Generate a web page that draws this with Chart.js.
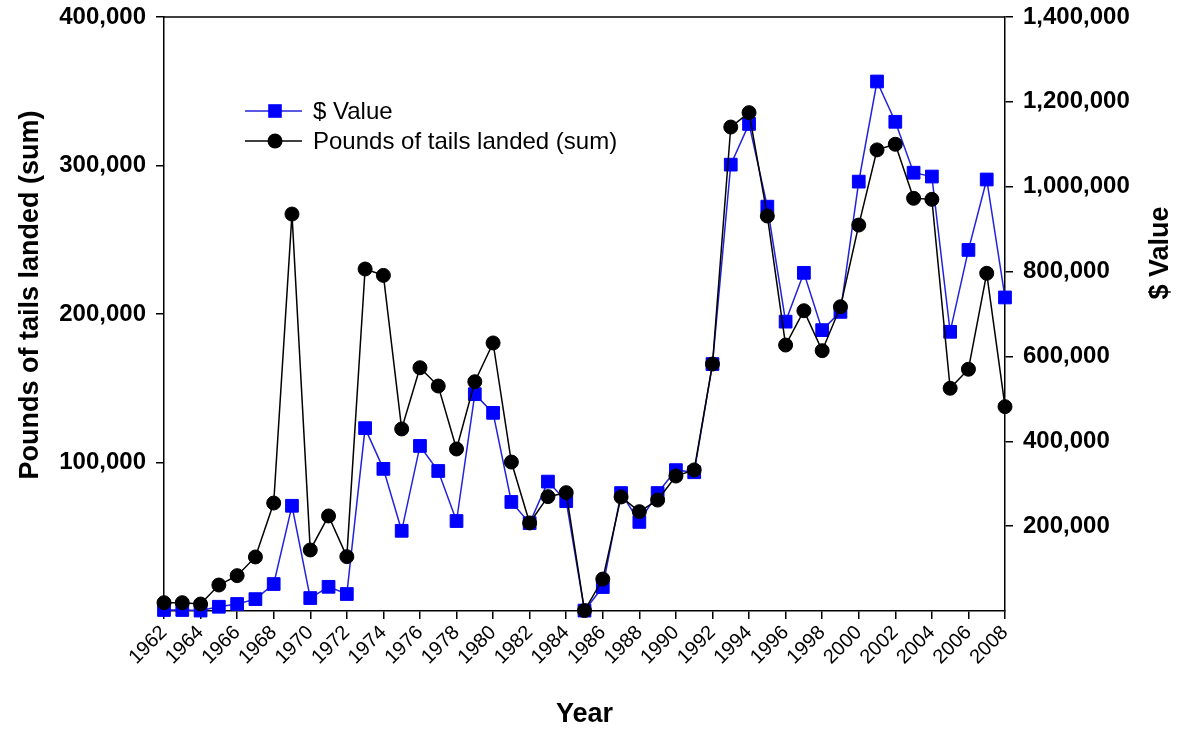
<!DOCTYPE html>
<html>
<head>
<meta charset="utf-8">
<script src="https://cdn.jsdelivr.net/npm/chart.js@4.4.1/dist/chart.umd.min.js"></script>
<style>
  html, body { margin: 0; padding: 0; background: #ffffff; }
  #wrap { width: 1182px; height: 731px; position: relative; }
</style>
</head>
<body>
<div id="wrap"><canvas id="c" width="1182" height="731"></canvas></div>
<script>
// ---- Data ----
const years = [1962,1963,1964,1965,1966,1967,1968,1969,1970,1971,1972,1973,1974,1975,1976,1977,1978,1979,1980,1981,1982,1983,1984,1985,1986,1987,1988,1989,1990,1991,1992,1993,1994,1995,1996,1997,1998,1999,2000,2001,2002,2003,2004,2005,2006,2007,2008];

const dollarValue = [2400,2400,1000,10000,16500,28000,63500,248000,30500,57000,40000,431000,335000,189000,389000,330000,212000,511000,467000,257000,207000,305000,259000,1000,56500,278000,210000,278000,332000,327000,582000,1052000,1148000,953000,682000,797000,662000,705000,1012000,1248000,1153000,1033000,1024000,658000,851000,1017000,739000];

const poundsLanded = [5600,5600,4700,17500,23800,36400,72700,267300,41100,64000,36600,230300,226000,122600,163800,151500,109100,154400,180500,100300,59300,77000,79700,300,21500,76800,66900,74700,90900,95000,166300,325900,335600,266000,179100,202200,175300,204900,259900,310500,314300,277900,277200,150000,162800,227400,137600];

const xTickYears = [1962,1964,1966,1968,1970,1972,1974,1976,1978,1980,1982,1984,1986,1988,1990,1992,1994,1996,1998,2000,2002,2004,2006,2008];
const leftTickValues = [100000,200000,300000,400000];
const rightTickValues = [200000,400000,600000,800000,1000000,1200000,1400000];
const seriesNames = ['$ Value', 'Pounds of tails landed (sum)'];
const leftTitle = 'Pounds of tails landed (sum)';
const rightTitle = '$ Value';
const bottomTitle = 'Year';

// ---- Styling ----
const FONT = 'Arial, "Liberation Sans", Helvetica, sans-serif';
const BLUE_LINE = '#2222dd';
const BLUE_FILL = '#0000ff';

const fmt = v => Number(v).toLocaleString('en-US');

const extras = {
  id: 'extras',
  afterDraw(chart) {
    const ctx = chart.ctx;
    const a = chart.chartArea;
    ctx.save();
    // top frame line
    ctx.strokeStyle = '#000';
    ctx.lineWidth = 1.5;
    ctx.beginPath();
    ctx.moveTo(a.left, a.top);
    ctx.lineTo(a.right, a.top);
    ctx.stroke();

    // left axis title (reads bottom to top)
    ctx.fillStyle = '#000';
    ctx.font = 'bold 27px ' + FONT;
    ctx.textAlign = 'center';
    ctx.textBaseline = 'middle';
    ctx.save();
    ctx.translate(31, 295);
    ctx.rotate(-Math.PI / 2);
    ctx.fillText(leftTitle, 0, 0);
    ctx.restore();

    // right axis title (reads bottom to top)
    ctx.save();
    ctx.translate(1161, 253);
    ctx.rotate(-Math.PI / 2);
    ctx.fillText(rightTitle, 0, 0);
    ctx.restore();

    // legend
    const ds = chart.data.datasets;
    const lx0 = 245, lx1 = 302, mx = 275, tx = 313;
    const rows = [{ y: 111, d: ds[0] }, { y: 141, d: ds[1] }];
    ctx.font = '24px ' + FONT;
    ctx.textAlign = 'left';
    rows.forEach(r => {
      ctx.strokeStyle = r.d.borderColor;
      ctx.lineWidth = r.d.borderWidth;
      ctx.beginPath();
      ctx.moveTo(lx0, r.y);
      ctx.lineTo(lx1, r.y);
      ctx.stroke();
      ctx.fillStyle = r.d.pointBackgroundColor;
      if (r.d.pointStyle === 'rect') {
        const s = 6.8;
        ctx.fillRect(mx - s, r.y - s, 2 * s, 2 * s);
      } else {
        ctx.beginPath();
        ctx.arc(mx, r.y, 7.5, 0, Math.PI * 2);
        ctx.fill();
      }
      ctx.fillStyle = '#000';
      ctx.fillText(r.d.label, tx, r.y + 1);
    });
    ctx.restore();
  }
};

new Chart(document.getElementById('c'), {
  type: 'line',
  data: {
    datasets: [
      {
        label: seriesNames[0],
        data: years.map((yr, i) => ({ x: yr, y: dollarValue[i] })),
        yAxisID: 'y2',
        borderColor: BLUE_LINE,
        borderWidth: 1.5,
        pointStyle: 'rect',
        pointRadius: 9,
        pointBackgroundColor: BLUE_FILL,
        pointBorderColor: BLUE_FILL,
        pointBorderWidth: 1,
        tension: 0,
        clip: false,
        order: 2
      },
      {
        label: seriesNames[1],
        data: years.map((yr, i) => ({ x: yr, y: poundsLanded[i] })),
        yAxisID: 'y',
        borderColor: '#000000',
        borderWidth: 1.5,
        pointStyle: 'circle',
        pointRadius: 7,
        pointBackgroundColor: '#000000',
        pointBorderColor: '#000000',
        pointBorderWidth: 1,
        tension: 0,
        clip: false,
        order: 1
      }
    ]
  },
  options: {
    responsive: false,
    animation: false,
    layout: { padding: { top: 17, left: 0, right: 0, bottom: 0 } },
    plugins: { legend: { display: false }, tooltip: { enabled: false } },
    scales: {
      x: {
        type: 'linear',
        position: 'bottom',
        min: 1962,
        max: 2008,
        afterBuildTicks: s => { s.ticks = xTickYears.map(v => ({ value: v })); },
        afterFit: s => { s.height = 120; s.paddingLeft = 0; s.paddingRight = 0; },
        ticks: {
          callback: v => String(v),
          autoSkip: false,
          maxRotation: 45,
          minRotation: 45,
          padding: 2,
          color: '#000',
          font: { family: FONT, size: 20 }
        },
        grid: { drawOnChartArea: false, drawTicks: true, tickLength: 8, color: '#000', lineWidth: 1.5 },
        border: { display: true, color: '#000', width: 1.5 },
        title: {
          display: true,
          text: bottomTitle,
          color: '#000',
          font: { family: FONT, size: 27, weight: 'bold' },
          padding: { top: 0, bottom: 0 }
        }
      },
      y: {
        type: 'linear',
        position: 'left',
        min: 0,
        max: 400000,
        afterBuildTicks: s => { s.ticks = leftTickValues.map(v => ({ value: v })); },
        afterFit: s => { s.width = 164; s.paddingTop = 0; s.paddingBottom = 0; },
        ticks: { callback: fmt, padding: 10, color: '#000', font: { family: FONT, size: 24, weight: 'bold' } },
        grid: { drawOnChartArea: false, drawTicks: true, tickLength: 8, color: '#000', lineWidth: 1.5 },
        border: { display: true, color: '#000', width: 1.5 }
      },
      y2: {
        type: 'linear',
        position: 'right',
        min: 0,
        max: 1400000,
        afterBuildTicks: s => { s.ticks = rightTickValues.map(v => ({ value: v })); },
        afterFit: s => { s.width = 177; s.paddingTop = 0; s.paddingBottom = 0; },
        ticks: { callback: fmt, padding: 10, color: '#000', font: { family: FONT, size: 24, weight: 'bold' } },
        grid: { drawOnChartArea: false, drawTicks: true, tickLength: 8, color: '#000', lineWidth: 1.5 },
        border: { display: true, color: '#000', width: 1.5 }
      }
    }
  },
  plugins: [extras]
});
</script>
</body>
</html>
